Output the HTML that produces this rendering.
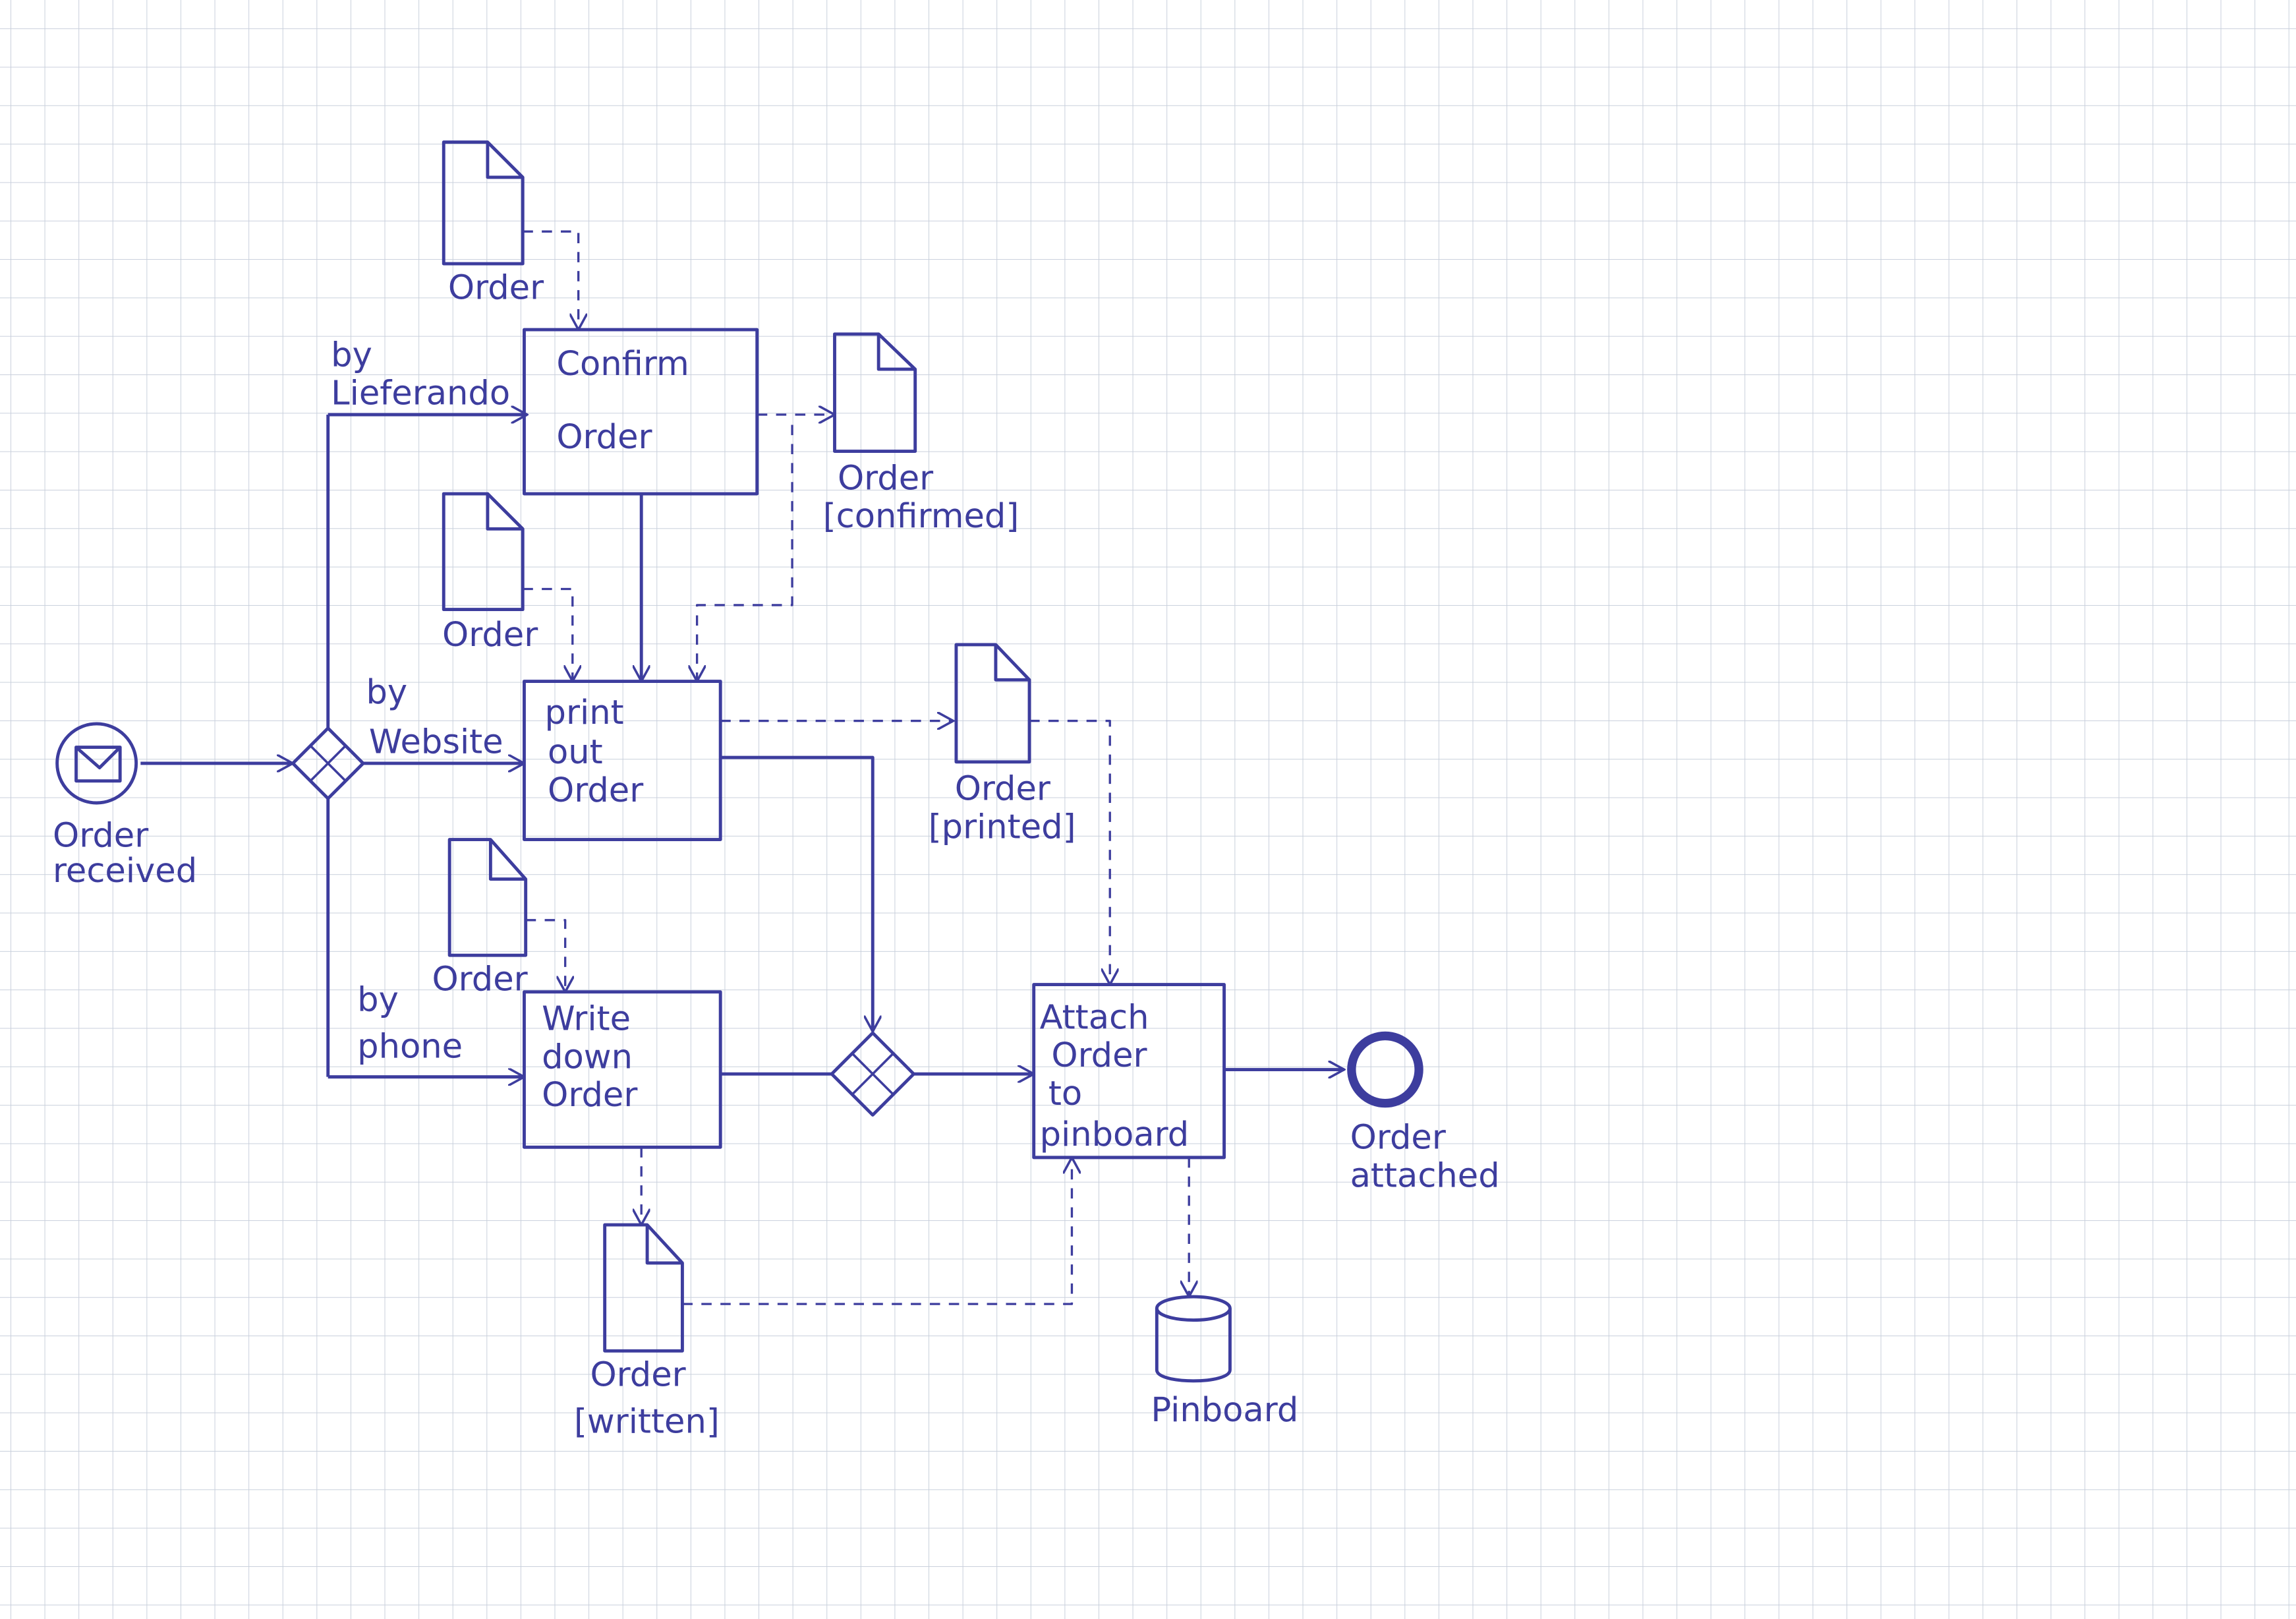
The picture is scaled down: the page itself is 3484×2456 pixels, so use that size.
<!DOCTYPE html>
<html><head><meta charset="utf-8"><style>
html,body{margin:0;padding:0;background:#fff}
svg{display:block}
text{font-family:"DejaVu Sans","Liberation Sans",sans-serif;fill:#3d3d9e;font-size:23px}
</style></head><body>
<svg width="3484" height="2456" viewBox="0 0 1568 1105" preserveAspectRatio="none" xmlns="http://www.w3.org/2000/svg">
<defs>
<pattern id="g" x="7.2" y="19.4" width="23.22" height="26.24" patternUnits="userSpaceOnUse">
<path d="M0 0V26.24M0 0H23.22" stroke="#c9d0dc" stroke-width="0.9" fill="none"/>
</pattern>
<marker id="a" viewBox="0 0 12 12" refX="11" refY="6" markerWidth="12" markerHeight="12" markerUnits="userSpaceOnUse" orient="auto">
<path d="M0 0L11 6L0 12" fill="none" stroke="#3d3d9e" stroke-width="1.6"/>
</marker>
</defs>
<rect width="1568" height="1105" fill="#fff"/>
<rect width="1568" height="1105" fill="url(#g)"/>
<g fill="none" stroke="#3d3d9e" stroke-width="2.2" stroke-linejoin="round">
<!-- start event -->
<circle cx="66" cy="521" r="27"/>
<rect x="52" y="510" width="30" height="23"/>
<path d="M52 510L68 524L82 510"/>
<path d="M96 521H200" marker-end="url(#a)"/>
<!-- gateway 1 -->
<path d="M224 497L248 521L224 545L200 521Z"/>
<path d="M212 509L236 533M236 509L212 533" stroke-width="1.6"/>
<path d="M224 283V497M224 545V735"/>
<path d="M224 283H360" marker-end="url(#a)"/>
<path d="M248 521H358" marker-end="url(#a)"/>
<path d="M224 735H358" marker-end="url(#a)"/>
<!-- tasks -->
<rect x="358" y="225" width="159" height="112"/>
<rect x="358" y="465" width="134" height="108"/>
<rect x="358" y="677" width="134" height="106"/>
<rect x="706" y="672" width="130" height="118"/>
<path d="M438 337V465" marker-end="url(#a)"/>
<path d="M492 517H596V704" marker-end="url(#a)"/>
<path d="M492 733H568"/>
<!-- gateway 2 -->
<path d="M596 705L624 733L596 761L568 733Z"/>
<path d="M582 719L610 747M610 719L582 747" stroke-width="1.6"/>
<path d="M624 733H706" marker-end="url(#a)"/>
<path d="M836 730H918" marker-end="url(#a)"/>
<circle cx="946" cy="730" r="23" stroke-width="6"/>
<!-- documents -->
<path d="M303 97H333L357 121V180H303Z M333 97V121H357"/>
<path d="M570 228H600L625 252V308H570Z M600 228V252H625"/>
<path d="M303 337H333L357 361V416H303Z M333 337V361H357"/>
<path d="M653 440H680L703 464V520H653Z M680 440V464H703"/>
<path d="M307 573H335L359 600V652H307Z M335 573V600H359"/>
<path d="M413 836H442L466 862V922H413Z M442 836V862H466"/>
<!-- pinboard -->
<path d="M790 893V935C790 945 840 945 840 935V893"/>
<ellipse cx="815" cy="893" rx="25" ry="8"/>
<!-- data associations -->
<g stroke-width="1.5" stroke-dasharray="7 6">
<path d="M357 158H395V225" marker-end="url(#a)"/>
<path d="M517 283H570" marker-end="url(#a)"/>
<path d="M541 290V413H476V465" marker-end="url(#a)"/>
<path d="M357 402H391V465" marker-end="url(#a)"/>
<path d="M492 492H651" marker-end="url(#a)"/>
<path d="M703 492H758V672" marker-end="url(#a)"/>
<path d="M359 628H386V677" marker-end="url(#a)"/>
<path d="M438 783V836" marker-end="url(#a)"/>
<path d="M466 890H732V790" marker-end="url(#a)"/>
<path d="M812 790V885" marker-end="url(#a)"/>
</g>
</g>
<text x="380" y="256" font-size="28">Confirm</text>
<text x="380" y="306" font-size="28">Order</text>
<text x="372" y="494" font-size="26">print</text>
<text x="374" y="521" font-size="26">out</text>
<text x="374" y="547" font-size="26">Order</text>
<text x="370" y="703" font-size="26">Write</text>
<text x="370" y="729" font-size="26">down</text>
<text x="370" y="755" font-size="26">Order</text>
<text x="710" y="702" font-size="26">Attach</text>
<text x="718" y="728" font-size="26">Order</text>
<text x="716" y="754" font-size="26">to</text>
<text x="710" y="782" font-size="26">pinboard</text>
<text x="226" y="250">by</text>
<text x="226" y="276">Lieferando</text>
<text x="250" y="480">by</text>
<text x="252" y="514">Website</text>
<text x="244" y="690">by</text>
<text x="244" y="722">phone</text>
<text x="36" y="578" font-size="25">Order</text>
<text x="36" y="602" font-size="25">received</text>
<text x="922" y="784" font-size="25">Order</text>
<text x="922" y="810" font-size="25">attached</text>
<text x="306" y="204">Order</text>
<text x="572" y="334">Order</text>
<text x="562" y="360">[confirmed]</text>
<text x="302" y="441">Order</text>
<text x="652" y="546">Order</text>
<text x="634" y="572">[printed]</text>
<text x="295" y="676">Order</text>
<text x="403" y="946">Order</text>
<text x="392" y="978">[written]</text>
<text x="786" y="970">Pinboard</text>
</svg>
</body></html>
